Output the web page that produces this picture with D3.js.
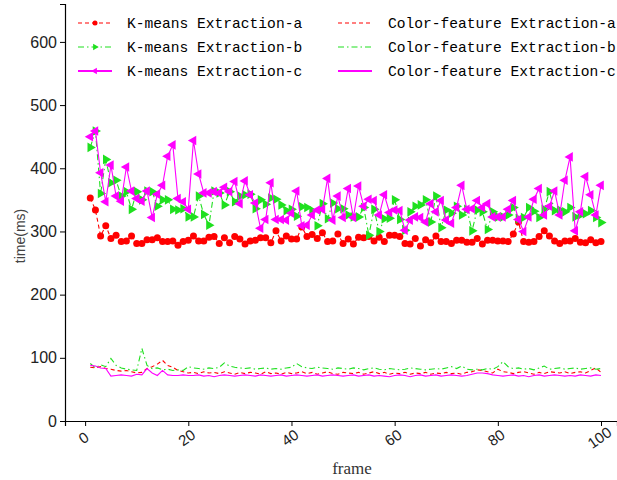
<!DOCTYPE html>
<html>
<head>
<meta charset="utf-8">
<script src="https://cdn.jsdelivr.net/npm/d3@7"></script>
<style>
  body { margin: 0; background: #fff; }
  svg { display: block; }
</style>
</head>
<body>
<svg id="chart"></svg>
<script>
// K-means extraction, frames 1..100 (ms)
const kmeansA = [
  353, 334, 293, 309, 289, 294, 284, 285, 293, 281,
  281, 287, 287, 290, 284, 284, 285, 278, 284, 286,
  293, 285, 285, 291, 292, 281, 290, 282, 292, 288,
  280, 285, 286, 290, 290, 282, 301, 285, 293, 288,
  288, 307, 292, 295, 289, 298, 284, 285, 296, 281,
  288, 280, 291, 290, 292, 285, 291, 284, 294, 294,
  292, 281, 280, 289, 277, 287, 282, 293, 284, 284,
  281, 286, 286, 283, 283, 289, 280, 286, 286, 285,
  285, 284, 296, 315, 284, 283, 284, 292, 301, 293,
  285, 281, 285, 285, 289, 283, 282, 287, 282, 284
];
const kmeansB = [
  433, 459, 360, 414, 377, 381, 356, 363, 335, 363,
  350, 364, 363, 340, 350, 350, 335, 334, 336, 323,
  323, 356, 327, 310, 364, 361, 342, 363, 347, 356,
  358, 359, 336, 350, 343, 353, 351, 342, 333, 335,
  324, 339, 338, 333, 309, 344, 320, 345, 336, 336,
  326, 323, 323, 338, 294, 335, 300, 320, 321, 350,
  319, 302, 331, 340, 342, 350, 315, 356, 306, 334,
  329, 340, 326, 335, 301, 334, 331, 303, 331, 323,
  323, 326, 338, 320, 322, 338, 332, 322, 335, 363,
  333, 334, 331, 338, 323, 326, 328, 333, 322, 314
];
const kmeansC = [
  450, 459, 393, 347, 405, 356, 348, 402, 364, 352,
  348, 364, 322, 359, 373, 419, 437, 352, 347, 335,
  444, 391, 361, 361, 363, 361, 370, 363, 379, 344,
  380, 358, 345, 305, 319, 377, 319, 319, 318, 329,
  364, 309, 310, 326, 334, 335, 384, 318, 356, 322,
  368, 322, 372, 340, 351, 349, 326, 358, 330, 334,
  333, 302, 318, 323, 322, 315, 344, 331, 349, 318,
  313, 338, 373, 335, 336, 349, 338, 344, 323, 323,
  323, 335, 349, 319, 300, 323, 351, 368, 326, 340,
  364, 326, 381, 418, 301, 331, 387, 358, 326, 373
];

// Color-feature extraction, frames 1..100 (ms)
const colorA = [
  85, 84, 86, 83, 82, 80, 79, 80, 78, 76,
  77, 83, 86, 90, 96, 88, 85, 80, 78, 76,
  77, 75, 78, 76, 77, 75, 78, 76, 74, 77,
  75, 77, 76, 74, 78, 75, 76, 74, 77, 75,
  76, 78, 75, 77, 74, 76, 78, 75, 74, 77,
  76, 75, 77, 74, 76, 78, 75, 77, 74, 76,
  75, 77, 74, 76, 75, 77, 74, 76, 75, 77,
  75, 76, 74, 77, 78, 81, 80, 78, 76, 82,
  78, 77, 75, 77, 78, 76, 74, 77, 75, 78,
  77, 76, 78, 75, 77, 78, 76, 80, 84, 77
];
const colorB = [
  91, 84, 89, 86, 99, 88, 84, 82, 81, 80,
  115, 88, 83, 84, 81, 82, 80, 81, 80, 86,
  84, 83, 82, 84, 83, 85, 92, 87, 85, 84,
  83, 84, 82, 83, 84, 82, 83, 82, 84, 85,
  91, 86, 84, 83, 85, 84, 83, 82, 84, 83,
  82, 84, 83, 81, 83, 84, 82, 81, 83, 82,
  81, 82, 84, 83, 82, 81, 82, 83, 82, 84,
  86, 83, 87, 82, 81, 82, 81, 83, 82, 86,
  94, 86, 83, 84, 82, 83, 81, 84, 87, 82,
  83, 84, 82, 83, 84, 82, 83, 84, 82, 83
];
const colorC = [
  88, 87, 84, 83, 71, 72, 73, 72, 71, 74,
  73, 83, 76, 72, 80, 73, 72, 72, 73, 72,
  72, 73, 71, 72, 70, 72, 73, 72, 71, 72,
  73, 72, 71, 73, 72, 71, 72, 73, 71, 72,
  73, 72, 71, 72, 73, 71, 72, 73, 72, 71,
  72, 73, 71, 72, 73, 71, 72, 71, 70, 72,
  73, 72, 70, 72, 73, 71, 72, 73, 71, 72,
  73, 72, 71, 72, 74, 76, 76, 75, 73, 72,
  71, 72, 73, 71, 72, 70, 72, 73, 71, 72,
  73, 72, 71, 72, 71, 73, 72, 71, 73, 72
];

const xTicks = [0, 20, 40, 60, 80, 100];
const yTicks = [0, 100, 200, 300, 400, 500, 600];

const RED = '#ff0000';
const GREEN = '#1fe01f';
const MAGENTA = '#ff00ff';

const series = [
  { name: 'K-means Extraction-a', values: kmeansA, color: RED, dash: '4,3', marker: 'circle' },
  { name: 'K-means Extraction-b', values: kmeansB, color: GREEN, dash: '6,3,1.5,3', marker: 'right' },
  { name: 'K-means Extraction-c', values: kmeansC, color: MAGENTA, dash: null, marker: 'left' },
  { name: 'Color-feature Extraction-a', values: colorA, color: RED, dash: '4,3', marker: null },
  { name: 'Color-feature Extraction-b', values: colorB, color: GREEN, dash: '6,3,1.5,3', marker: null },
  { name: 'Color-feature Extraction-c', values: colorC, color: MAGENTA, dash: null, marker: null }
];

const width = 617;
const height = 480;
const svg = d3.select('#chart').attr('width', width).attr('height', height);

const x = d3.scaleLinear().domain([-3.9, 103.1]).range([65, 617]);
const y = d3.scaleLinear().domain([0, 660]).range([421, 4]);

// axes
const xAxis = svg.append('g')
  .attr('transform', 'translate(0,421)')
  .call(d3.axisBottom(x).tickValues(xTicks).tickSize(5).tickFormat(d3.format('d')));
xAxis.selectAll('text')
  .attr('font-family', '"Liberation Sans", Arial, sans-serif')
  .attr('font-size', 15)
  .attr('fill', '#222')
  .attr('text-anchor', 'middle')
  .attr('y', 0)
  .attr('dy', 0)
  .attr('transform', 'translate(1,21) rotate(-35)');

const yAxis = svg.append('g')
  .attr('transform', 'translate(65,0)')
  .call(d3.axisLeft(y).tickValues(yTicks).tickSize(5));
yAxis.selectAll('text')
  .attr('font-family', '"Liberation Sans", Arial, sans-serif')
  .attr('font-size', 16)
  .attr('fill', '#222')
  .attr('x', -8);

svg.selectAll('.domain').attr('stroke', '#000').attr('stroke-width', 1.2);
svg.selectAll('.tick line').attr('stroke', '#000');

// axis titles
svg.append('text')
  .attr('x', 352).attr('y', 474)
  .attr('text-anchor', 'middle')
  .attr('font-family', '"Liberation Serif", serif')
  .attr('font-size', 17)
  .attr('fill', '#333')
  .text('frame');

svg.append('text')
  .attr('transform', 'translate(25,236) rotate(-90)')
  .attr('text-anchor', 'middle')
  .attr('font-family', '"Liberation Sans", sans-serif')
  .attr('font-size', 14)
  .attr('fill', '#444')
  .text('time(ms)');

// lines and markers
const line = d3.line()
  .x((d, i) => x(i + 1))
  .y(d => y(d));

const tri = d3.symbol().type(d3.symbolTriangle).size(40);

function drawMarker (sel, type, color) {
  if (type === 'circle') {
    sel.append('circle').attr('r', 3.5).attr('fill', color);
  } else if (type === 'right') {
    sel.append('path').attr('d', tri()).attr('transform', 'rotate(90)').attr('fill', color);
  } else if (type === 'left') {
    sel.append('path').attr('d', tri()).attr('transform', 'rotate(-90)').attr('fill', color);
  }
}

series.forEach(s => {
  const g = svg.append('g');
  g.append('path')
    .datum(s.values)
    .attr('d', line)
    .attr('fill', 'none')
    .attr('stroke', s.color)
    .attr('stroke-width', 1.1)
    .attr('stroke-dasharray', s.dash);
  if (s.marker) {
    g.selectAll('.pt').data(s.values).enter().append('g')
      .attr('transform', (d, i) => `translate(${x(i + 1)},${y(d)})`)
      .each(function () { drawMarker(d3.select(this), s.marker, s.color); });
  }
});

// legend
const legend = svg.append('g');
series.forEach((s, i) => {
  const col = i < 3 ? 0 : 1;
  const row = i % 3;
  const lx = col === 0 ? 78 : 338;
  const ly = 23 + row * 24;
  const item = legend.append('g').attr('transform', `translate(${lx},${ly})`);
  item.append('line')
    .attr('x1', 0).attr('x2', 34).attr('y1', 0).attr('y2', 0)
    .attr('stroke', s.color)
    .attr('stroke-width', s.dash ? 1.1 : 1.8)
    .attr('stroke-dasharray', s.dash);
  if (s.marker) {
    const m = item.append('g').attr('transform', 'translate(17,0)');
    if (s.marker === 'circle') {
      m.append('circle').attr('r', 2.5).attr('fill', s.color);
    } else {
      m.append('path').attr('d', d3.symbol().type(d3.symbolTriangle).size(18)())
        .attr('transform', s.marker === 'right' ? 'rotate(90)' : 'rotate(-90)')
        .attr('fill', s.color);
    }
  }
  item.append('text')
    .attr('x', col === 0 ? 49 : 50).attr('y', 5)
    .attr('font-family', '"Liberation Mono", "DejaVu Sans Mono", monospace')
    .attr('font-size', 14.6)
    .attr('fill', '#000')
    .text(s.name);
});
</script>
</body>
</html>
